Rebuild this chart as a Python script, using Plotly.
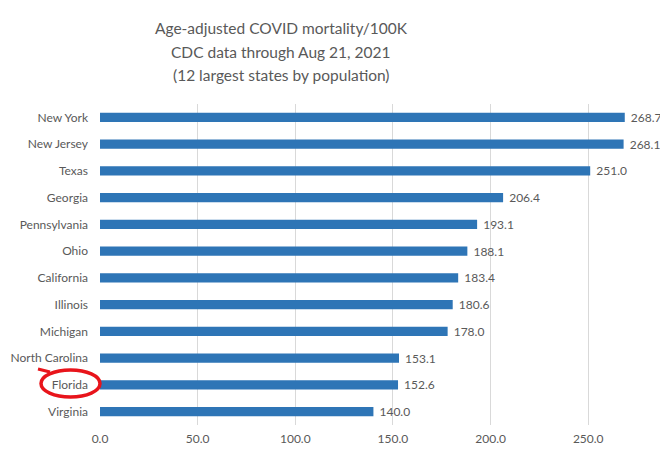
import plotly.graph_objects as go

states = ["New York", "New Jersey", "Texas", "Georgia", "Pennsylvania", "Ohio",
          "California", "Illinois", "Michigan", "North Carolina", "Florida", "Virginia"]
mortality = [268.7, 268.1, 251.0, 206.4, 193.1, 188.1, 183.4, 180.6, 178.0, 153.1, 152.6, 140.0]
x_ticks = [0, 50, 100, 150, 200, 250, 300]
x_tick_labels = ["0.0", "50.0", "100.0", "150.0", "200.0", "250.0", "300.0"]
title_lines = ["Age-adjusted COVID mortality/100K",
               "CDC data through Aug 21, 2021",
               "(12 largest states by population)"]

# page body adds an 8px offset; work in figure pixels
OFF = 8
W, H = 660, 451
L, R, T, B = 100 - OFF, 0, 104 - OFF, 34
pw, ph = W - L - R, H - T - B

def px(xs):
    return (xs - OFF - L) / pw

def py(ys):
    return (H - B - (ys - OFF)) / ph

gray = "#595959"
FONT = "Lato"
fig = go.Figure(go.Bar(
    x=mortality, y=states, orientation="h",
    marker=dict(color="#2e75b6", line=dict(width=0)),
    text=mortality, texttemplate="\u00a0%{x:.1f}", textposition="outside",
    textfont=dict(size=12, color=gray, family=FONT),
    constraintext="none", cliponaxis=False, width=0.34,
))

annotations = []
for line, ys in zip(title_lines, [28, 52, 75]):
    annotations.append(dict(
        text=line, xref="paper", yref="paper", x=px(281), y=py(ys),
        xanchor="center", yanchor="middle", showarrow=False,
        font=dict(size=15.5, color=gray, family=FONT),
    ))

fig.update_layout(
    width=W, height=H,
    margin=dict(l=L, r=R, t=T, b=B, pad=0),
    paper_bgcolor="white", plot_bgcolor="white",
    showlegend=False,
    font=dict(family=FONT, color=gray),
    annotations=annotations,
    xaxis=dict(
        range=[0, pw / 1.953], tickvals=x_ticks, ticktext=x_tick_labels,
        showgrid=True, gridcolor="#d9d9d9", gridwidth=1, zeroline=False,
        showline=False, ticks="", tickfont=dict(size=12, color=gray, family=FONT),
        ticklabelstandoff=5,
    ),
    yaxis=dict(
        categoryorder="array", categoryarray=states[::-1],
        showgrid=False, zeroline=False, showline=False, ticks="",
        tickfont=dict(size=12, color=gray, family=FONT), ticklabelstandoff=11,
    ),
    shapes=[
        dict(type="circle", xref="paper", yref="paper", x0=px(41), x1=px(100), y0=py(370), y1=py(397),
             line=dict(color="#e8141b", width=3.5)),
        dict(type="line", xref="paper", yref="paper", x0=px(38), x1=px(50), y0=py(369), y1=py(372),
             line=dict(color="#e8141b", width=3)),
    ],
)

fig.write_html("out.html")
